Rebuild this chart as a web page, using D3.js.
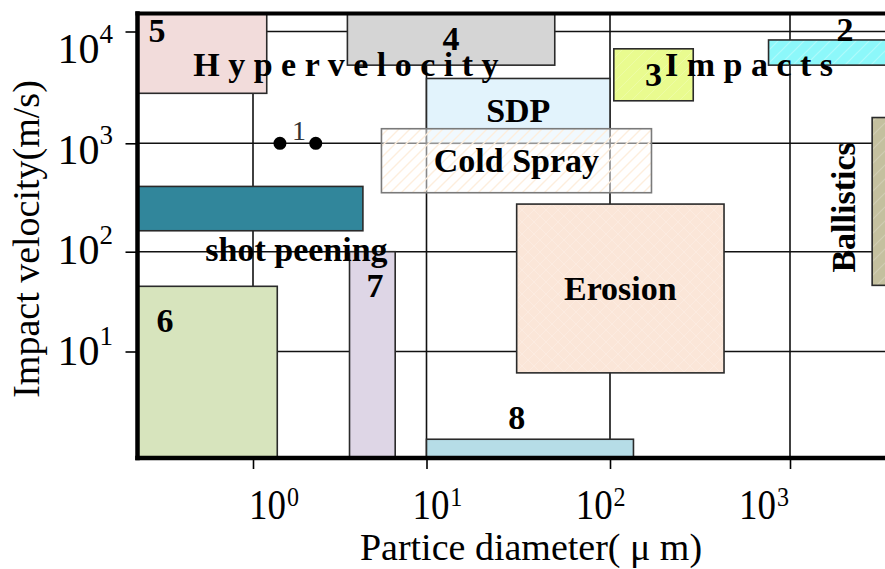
<!DOCTYPE html>
<html>
<head>
<meta charset="utf-8">
<script src="https://cdn.jsdelivr.net/npm/d3@7"></script>
<style>
  html, body { margin: 0; padding: 0; background: #fff; }
  svg { display: block; }
</style>
</head>
<body>
<svg id="chart" width="885" height="569"></svg>
<script>
// Particle impact regimes: particle diameter (µm) against impact velocity (m/s)
const regions      = ["5", "4", "3", "2", "SDP", "Cold Spray", "Erosion", "shot peening", "6", "7", "8", "Ballistics"];
const diameterMin  = [0.22, 3.5,  105, 760,   10,  5.5,  31,  0.22, 0.22, 3.6, 10,  2860];
const diameterMax  = [1.2,  50,   290, 20000, 100, 170,  430, 4.3,  1.38, 6.6, 135, 20000];
const velocityMin  = [2800, 5000, 2400, 5000, 1000, 350, 6.3, 156,  1,    1,   1,   46];
const velocityMax  = [15000, 15000, 7000, 8400, 3800, 1350, 275, 400, 45, 100, 1.5, 1700];

// Regime 1: two single-particle points
const pointDiameter = [1.43, 2.3];
const pointVelocity = [1000, 1000];

const diameterTicks = [1, 10, 100, 1000];
const velocityTicks = [10, 100, 1000, 10000];

// Labels written inside their own box (centred)
const boxLabels = ["4", "3", "SDP", "Cold Spray", "Erosion"];

// Free-standing annotations, placed in data units
const noteText     = ["H y p e r v e l o c i t y", "I m p a c t s", "shot peening", "Ballistics", "5", "6", "7", "8", "2", "1"];
const noteDiameter = [0.457, 202, 1.78, 2300, 0.284, 0.315, 5.05, 31, 2020, 1.84];
const noteVelocity = [4000, 4000, 80, 256, 8110, 15.8, 35.4, 1.88, 8280, 1070];

const fills = {
  "5": "#f2dcdb", "4": "#d5d5d5", "3": "#e9fb8f", "2": "#8cf8fa",
  "SDP": "#e2f3fc", "Cold Spray": "rgba(255,255,255,0.5)", "Erosion": "#fbe6d8",
  "shot peening": "#31869b", "6": "#d7e4bd", "7": "#ded6e6", "8": "#b6dde7",
  "Ballistics": "#c4c09f"
};
const overlays = { "Cold Spray": "hatchOrange", "2": "hatchWhite", "Ballistics": "hatchLight", "3": "hatchFaint", "Erosion": "crossFaint" };

const serif = "'Liberation Serif', 'Times New Roman', Times, serif";
const svg = d3.select("#chart");

const plot = { left: 137.5, right: 970, top: 13.5, bottom: 458 };

// Decade positions along each axis
const x = d3.scaleLog()
  .domain([0.22, 1, 10, 100, 1000, 10000])
  .range([plot.left, 253, 426.5, 610, 790, plot.right]);
const y = d3.scaleLog()
  .domain([1, 10, 100, 1000, 10000, 14500])
  .range([plot.bottom, 351.5, 251.7, 143.3, 31.5, plot.top]);

// Tick labels sit on an evenly spaced decade layout
const xLabel = d3.scaleLog().domain([1, 1000]).range([274, 764]);
const yLabel = d3.scaleLog().domain([10, 10000]).range([364.9, 63]);

// ---- patterns ----
const defs = svg.append("defs");
defs.append("clipPath").attr("id", "plotClip")
  .append("rect")
  .attr("x", plot.left).attr("y", plot.top)
  .attr("width", plot.right - plot.left).attr("height", plot.bottom - plot.top);

function diagonal(id, size, color, width) {
  const p = defs.append("pattern").attr("id", id)
    .attr("patternUnits", "userSpaceOnUse")
    .attr("width", size).attr("height", size);
  p.append("path")
    .attr("d", `M0,${size} L${size},0 M${-size / 4},${size / 4} L${size / 4},${-size / 4} M${size * 3 / 4},${size * 5 / 4} L${size * 5 / 4},${size * 3 / 4}`)
    .attr("stroke", color).attr("stroke-width", width);
}
diagonal("hatchOrange", 11, "#fdeedd", 1.4);
diagonal("hatchWhite", 13, "rgba(255,255,255,0.3)", 1.2);
diagonal("hatchLight", 14, "rgba(255,255,255,0.2)", 1.2);
diagonal("hatchFaint", 12, "rgba(255,255,255,0.2)", 1);
(function () {
  const p = defs.append("pattern").attr("id", "crossFaint")
    .attr("patternUnits", "userSpaceOnUse").attr("width", 12).attr("height", 12);
  p.append("path").attr("d", "M0,12 L12,0 M0,0 L12,12")
    .attr("stroke", "rgba(255,255,255,0.2)").attr("stroke-width", 1);
})();

// ---- grid ----
const grid = svg.append("g").attr("stroke", "#111").attr("stroke-width", 1.6);
grid.selectAll("line.v").data(diameterTicks).join("line")
  .attr("x1", d => x(d)).attr("x2", d => x(d))
  .attr("y1", plot.top).attr("y2", plot.bottom);
grid.selectAll("line.h").data(velocityTicks).join("line")
  .attr("x1", plot.left).attr("x2", plot.right)
  .attr("y1", d => y(d)).attr("y2", d => y(d));

// ---- regime boxes ----
const boxes = regions.map((name, i) => ({
  name, d0: diameterMin[i], d1: diameterMax[i], v0: velocityMin[i], v1: velocityMax[i]
}));
const boxLayer = svg.append("g").attr("clip-path", "url(#plotClip)");
const strokeFor = n => n === "Cold Spray" ? "#7a7a7a" : "#2a2a2a";

boxes.forEach(b => {
  const rx = x(b.d0), ry = y(b.v1), rw = x(b.d1) - x(b.d0), rh = y(b.v0) - y(b.v1);
  boxLayer.append("rect")
    .attr("x", rx).attr("y", ry).attr("width", rw).attr("height", rh)
    .attr("fill", fills[b.name]);
  if (overlays[b.name]) {
    boxLayer.append("rect")
      .attr("x", rx).attr("y", ry).attr("width", rw).attr("height", rh)
      .attr("fill", `url(#${overlays[b.name]})`);
  }
  boxLayer.append("rect")
    .attr("x", rx).attr("y", ry).attr("width", rw).attr("height", rh)
    .attr("fill", "none").attr("stroke", strokeFor(b.name)).attr("stroke-width", 1.6);
});

// ---- regime 1 points ----
svg.append("g").selectAll("circle")
  .data(pointDiameter.map((d, i) => [d, pointVelocity[i]]))
  .join("circle")
  .attr("cx", d => x(d[0])).attr("cy", d => y(d[1])).attr("r", 6.5)
  .attr("fill", "#000");

// ---- labels ----
const labelLayer = svg.append("g").attr("font-family", serif).attr("font-weight", "bold").attr("fill", "#000");

boxes.filter(b => boxLabels.includes(b.name)).forEach(b => {
  labelLayer.append("text")
    .attr("x", (x(b.d0) + x(b.d1)) / 2)
    .attr("y", (y(b.v0) + y(b.v1)) / 2)
    .attr("dy", "0.33em")
    .attr("text-anchor", "middle")
    .attr("font-size", 34)
    .text(b.name);
});

noteText.forEach((t, i) => {
  const px = x(noteDiameter[i]), py = y(noteVelocity[i]);
  const txt = labelLayer.append("text").attr("font-size", 34).text(t);
  if (t === "Ballistics") {
    txt.attr("transform", `translate(${px},${py}) rotate(-90)`).attr("text-anchor", "middle");
  } else if (t.startsWith("H ") || t.startsWith("I ")) {
    txt.attr("x", px).attr("y", py).attr("text-anchor", "start");
  } else if (t === "1") {
    txt.attr("x", px).attr("y", py).attr("text-anchor", "middle")
      .attr("font-weight", "normal").attr("font-size", 28).attr("fill", "#333");
  } else {
    txt.attr("x", px).attr("y", py).attr("text-anchor", "middle");
  }
});

// ---- axes frame ----
const frame = svg.append("g").attr("stroke", "#000").attr("stroke-linecap", "square");
frame.append("line").attr("x1", plot.left).attr("x2", plot.left)
  .attr("y1", plot.top).attr("y2", plot.bottom).attr("stroke-width", 4.5);
frame.append("line").attr("x1", plot.left).attr("x2", plot.right)
  .attr("y1", plot.top).attr("y2", plot.top).attr("stroke-width", 4);
frame.append("line").attr("x1", plot.left).attr("x2", plot.right)
  .attr("y1", plot.bottom).attr("y2", plot.bottom).attr("stroke-width", 4.5);

// tick marks
const xAxis = svg.append("g").attr("transform", `translate(0,${plot.bottom})`)
  .call(d3.axisBottom(x).tickValues(diameterTicks).tickSize(11).tickFormat(""));
const yAxis = svg.append("g").attr("transform", `translate(${plot.left},0)`)
  .call(d3.axisLeft(y).tickValues(velocityTicks).tickSize(12).tickFormat(""));
[xAxis, yAxis].forEach(a => {
  a.select(".domain").remove();
  a.selectAll(".tick line").attr("stroke", "#000").attr("stroke-width", 1.6);
});

// tick labels: 10 with a raised exponent
const tickText = svg.append("g").attr("font-family", serif).attr("fill", "#000");
diameterTicks.forEach(d => {
  const t = tickText.append("text")
    .attr("transform", `translate(${xLabel(d)},519) scale(0.86,1)`)
    .attr("text-anchor", "middle").attr("font-size", 43);
  t.append("tspan").text("10");
  t.append("tspan").attr("font-size", 28).attr("dx", 1).attr("dy", -13).text(Math.round(Math.log10(d)));
});
velocityTicks.forEach(v => {
  const t = tickText.append("text")
    .attr("x", 113).attr("y", yLabel(v))
    .attr("text-anchor", "end").attr("font-size", 42);
  t.append("tspan").text("10");
  t.append("tspan").attr("font-size", 27).attr("dy", -20).text(Math.round(Math.log10(v)));
});

// axis titles
svg.append("text")
  .attr("x", 531).attr("y", 560)
  .attr("text-anchor", "middle")
  .attr("font-family", serif).attr("font-size", 38)
  .text("Partice diameter( μ m)");
svg.append("text")
  .attr("transform", "translate(38.5,239) rotate(-90)")
  .attr("text-anchor", "middle")
  .attr("font-family", serif).attr("font-size", 38)
  .text("Impact velocity(m/s)");
</script>
</body>
</html>
